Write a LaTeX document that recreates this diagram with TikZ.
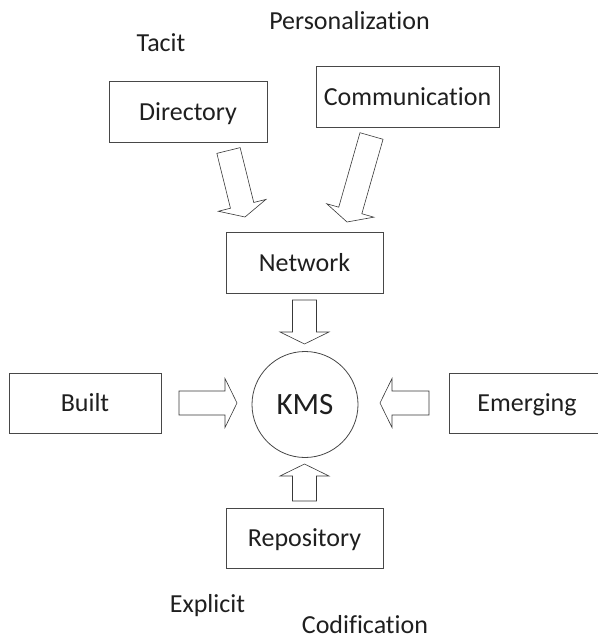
\documentclass[tikz,border=0pt]{standalone}
\usepackage{fontspec}
\setmainfont{Carlito}[Ligatures=NoCommon]
\usetikzlibrary{calc}
\newcommand{\blockarrow}[2]{%
  \coordinate (hb) at ($(#2)!12pt!(#1)$);
  \draw[blk] ($(#1)!12pt!90:(#2)$) -- ($(hb)!12pt!90:(#2)$) -- ($(hb)!24.5pt!90:(#2)$)
    -- (#2) -- ($(hb)!24.5pt!-90:(#2)$) -- ($(hb)!12pt!-90:(#2)$) -- ($(#1)!12pt!-90:(#2)$) -- cycle;
}
\begin{document}
\begin{tikzpicture}[x=1pt,y=-1pt,
  lbl/.style={text=black!88, font=\fontsize{26}{30}\selectfont, inner sep=0pt, text height=16.4pt, text depth=0pt},
  boxnode/.style={lbl, draw=black!72, line width=0.9pt, minimum width=#1, minimum height=60.5pt},
  blk/.style={draw=black!78, line width=0.6pt, fill=white, line join=miter}]
\useasboundingbox (0,0) rectangle (597,639);

% free labels
\node[lbl] (pers) at (349.5,21) {Personalization};
\node[lbl] (tacit) at (161,43) {Tacit};
\node[lbl] (expl) at (207.5,604) {Explicit};
\node[lbl] (codi) at (365,625) {Codification};

% boxes
\node[boxnode=158pt] (dir) at (188,112) {Directory};
\node[boxnode=183pt] (comm) at (407.5,97) {Communication};
\node[boxnode=157pt] (net) at (304.5,263) {Network};
\node[boxnode=152pt] (built) at (85,403.5) {Built};
\node[boxnode=156pt] (emer) at (527,403.5) {Emerging};
\node[boxnode=157pt] (repo) at (304.5,538.5) {Repository};
\node[circle, draw=black!72, line width=0.8pt, minimum size=106pt, inner sep=0pt,
      text=black!88, font=\fontsize{31}{36}\selectfont, text height=19.5pt, text depth=0pt] (kms) at (305,404.5) {KMS};

% arrow ends
\coordinate (dA) at (228.5,150.5);  \coordinate (dB) at (245,217);
\coordinate (cA) at (371.5,136);    \coordinate (cB) at (347,222);
\coordinate (nA) at (304.5,300);    \coordinate (nB) at (304.5,344);
\coordinate (rA) at (304.5,501);    \coordinate (rB) at (304.5,464);
\coordinate (bA) at (179,403);      \coordinate (bB) at (237,403);
\coordinate (eA) at (429,403);      \coordinate (eB) at (380,403);

\blockarrow{dA}{dB}
\blockarrow{cA}{cB}
\blockarrow{nA}{nB}
\blockarrow{rA}{rB}
\blockarrow{bA}{bB}
\blockarrow{eA}{eB}
\end{tikzpicture}
\end{document}
